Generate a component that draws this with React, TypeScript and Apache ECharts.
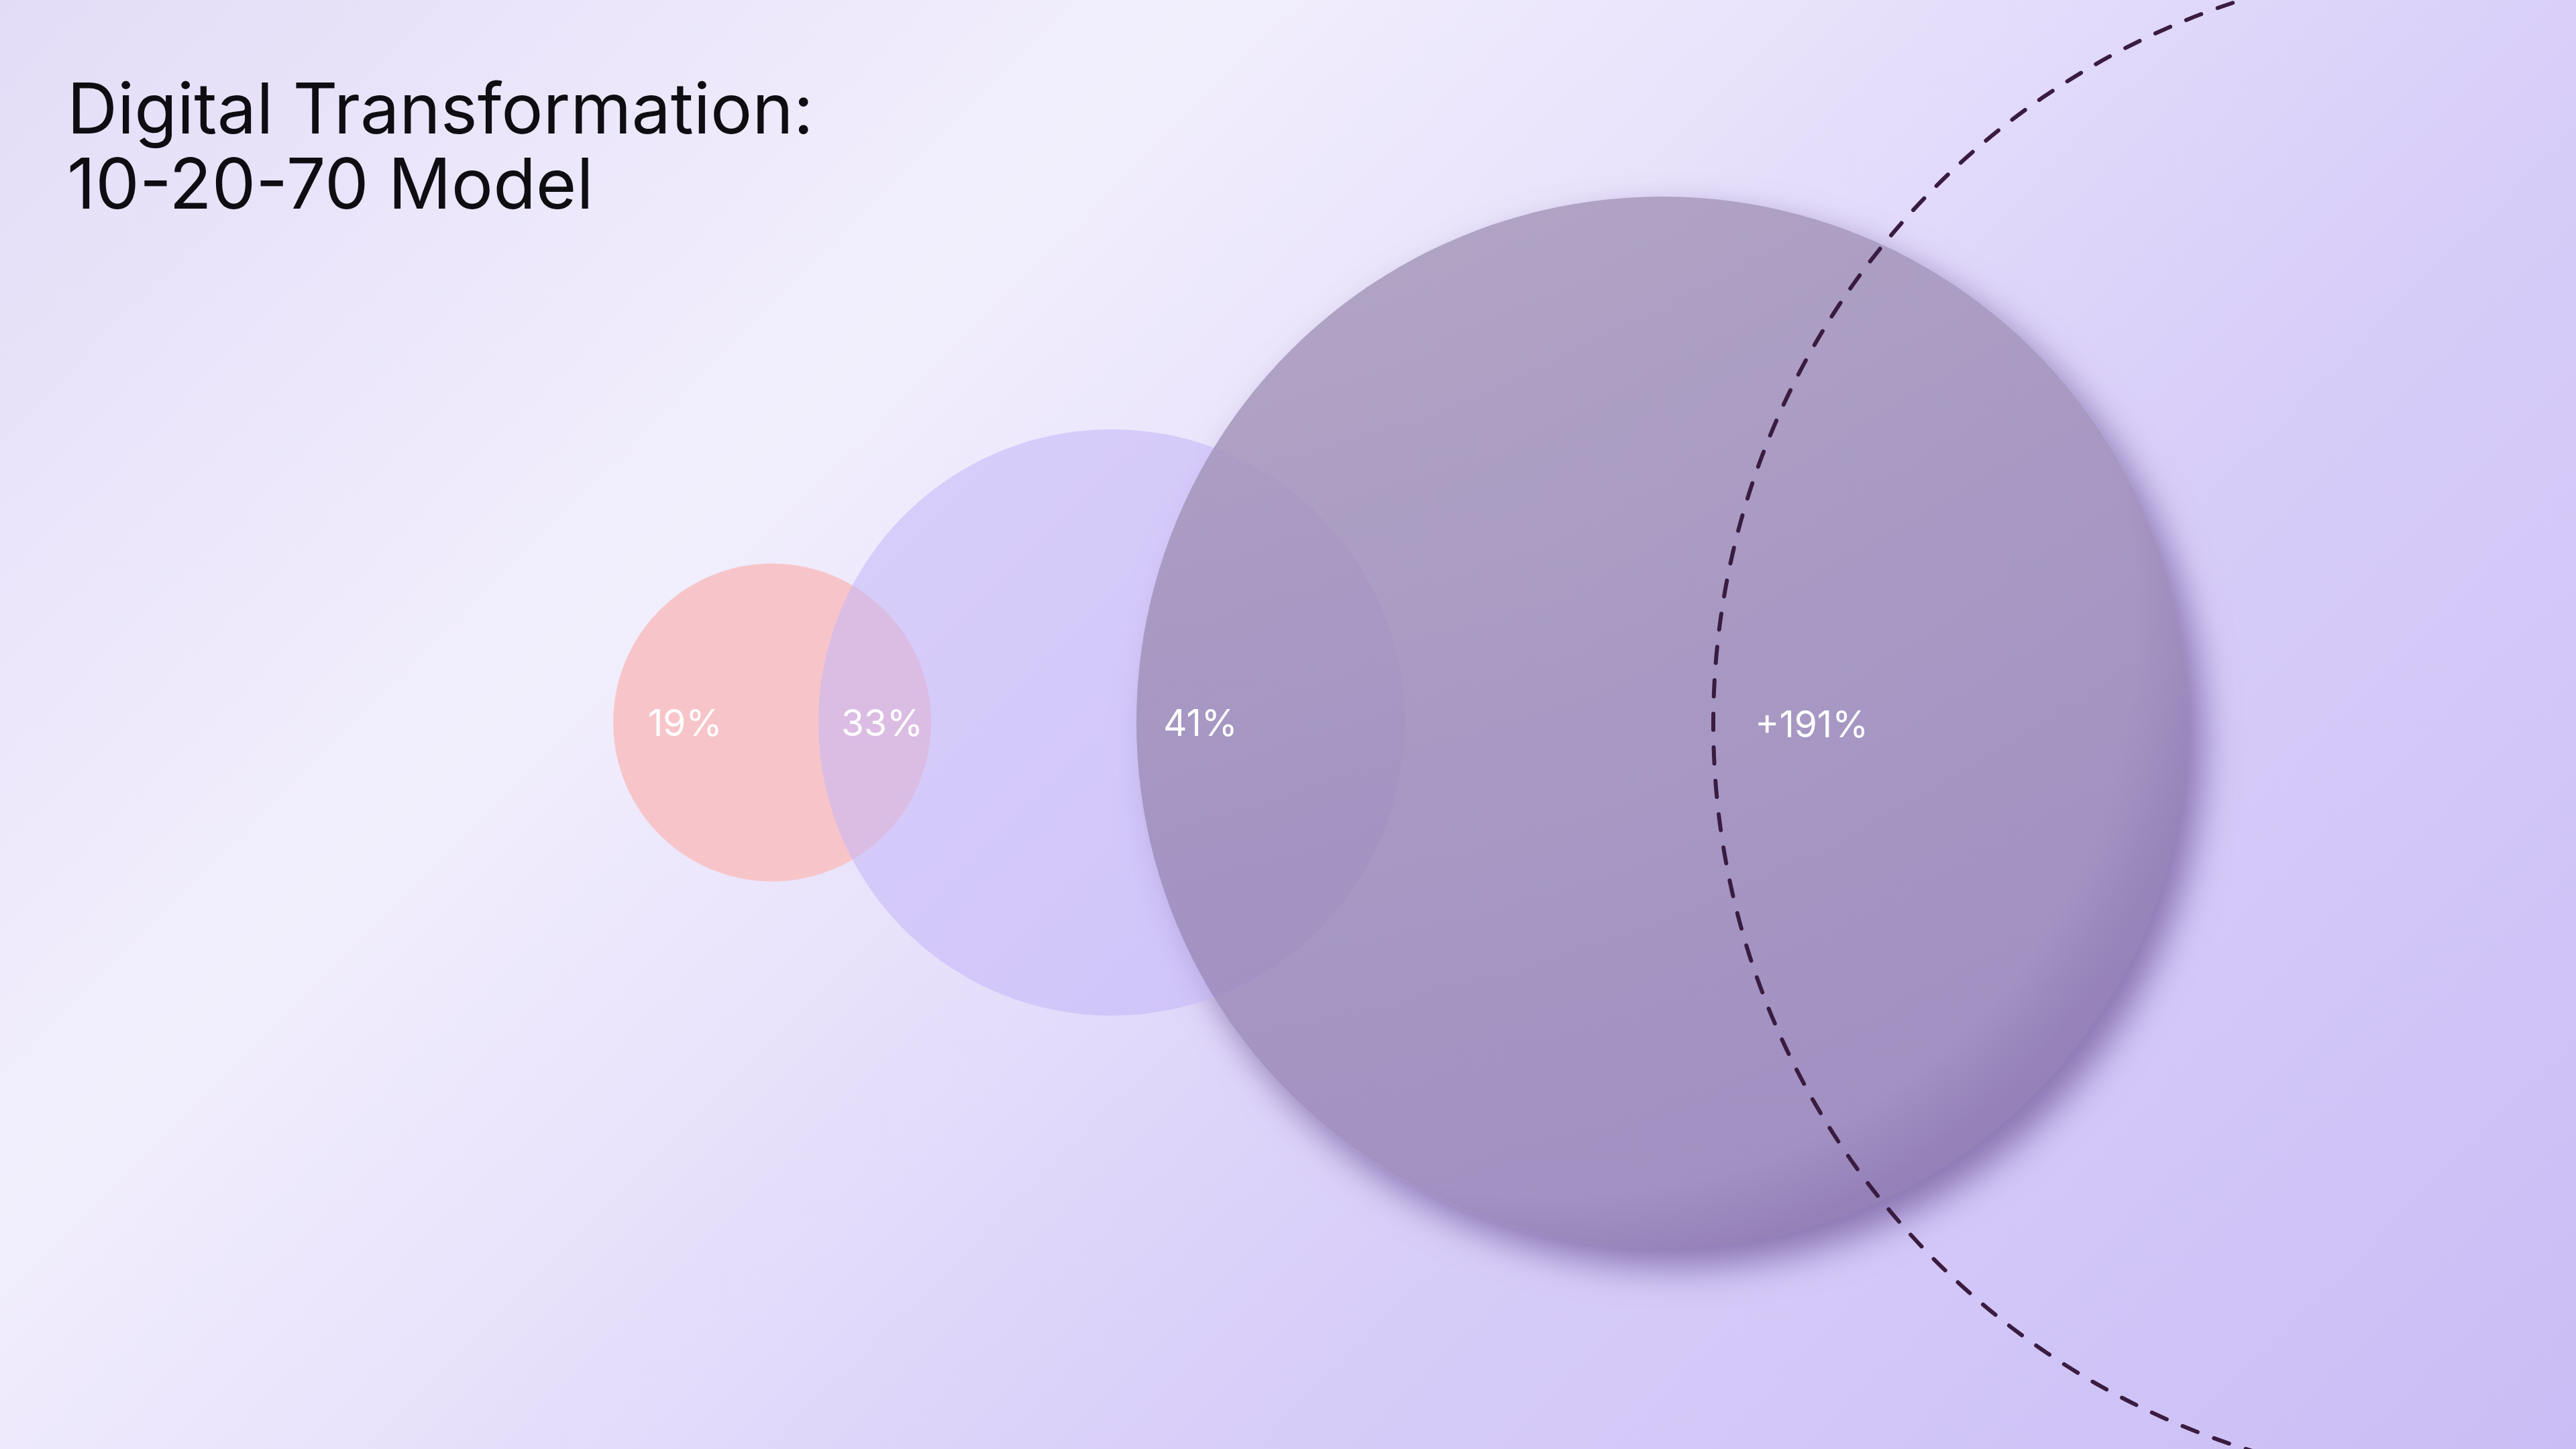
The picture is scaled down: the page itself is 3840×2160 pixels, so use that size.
import React, { useEffect, useRef } from 'react';
import * as echarts from 'echarts';

// Values (chart units = canvas grid units)
const TITLE_LINES = ['Digital Transformation:', '10-20-70 Model'];
const LABELS = ['19%', '33%', '41%', '+191%'];
const CENTER_X = [1151, 1657, 2478, 3687];
const CENTER_Y = [1077, 1077, 1077, 1079];
const RADIUS = [237, 437, 784, 1133];

const W = 3840;
const H = 2160;
const LABEL_INSET = [52, 34, 40, 62];

export default function App() {
  const ref = useRef<HTMLDivElement>(null);

  useEffect(() => {
    document.body.style.margin = '0';
    const chart = echarts.init(ref.current as HTMLDivElement, null, { renderer: 'svg' });

    const data = LABELS.map((_, i) => [CENTER_X[i], CENTER_Y[i], RADIUS[i], i]);

    const bg = new echarts.graphic.LinearGradient(
      0,
      0,
      3000,
      3000,
      [
        { offset: 0, color: '#E3DCF7' },
        { offset: 0.3, color: '#F2EFFD' },
        { offset: 0.45, color: '#E8E2FB' },
        { offset: 0.65, color: '#D8CEF9' },
        { offset: 1, color: '#CABDF5' },
      ],
      true
    );

    const bigFill = new echarts.graphic.LinearGradient(0.2, 0, 0.6, 1, [
      { offset: 0, color: 'rgba(166,152,182,0.8)' },
      { offset: 0.5, color: 'rgba(153,136,182,0.8)' },
      { offset: 1, color: 'rgba(146,126,181,0.8)' },
    ]);

    // under-layer of the big circle: page-coloured core, soft darker lower-right rim, drop shadow
    const underFill = new echarts.graphic.RadialGradient(0.4, 0.4, 1, [
      { offset: 0, color: '#E4DEFA' },
      { offset: 0.55, color: '#DCD4F8' },
      { offset: 0.62, color: '#A08EC6' },
      { offset: 1, color: '#A08EC6' },
    ]);
    const underStyle = {
      fill: underFill,
      shadowBlur: 54,
      shadowColor: 'rgba(137,116,176,1)',
      shadowOffsetX: 22,
      shadowOffsetY: 28,
    };

    const circleStyles: any[] = [
      { fill: '#F7C5C9' },
      { fill: 'rgba(197,181,247,0.56)' },
      { fill: bigFill },
      {
        fill: 'none',
        stroke: '#3A1C40',
        lineWidth: 6,
        lineDash: [24, 26],
        lineCap: 'round',
      },
    ];

    chart.setOption({
      animation: false,
      graphic: [
        {
          type: 'rect',
          z: -10,
          silent: true,
          shape: { x: 0, y: 0, width: W, height: H },
          style: { fill: bg },
        },
      ],
      title: TITLE_LINES.map((line, k) => ({
        text: line,
        left: 100,
        top: 105 + k * 112,
        padding: 0,
        textStyle: {
          fontFamily: 'Inter',
          fontSize: 104,
          lineHeight: 112,
          fontWeight: 400,
          color: '#0E0D12',
        },
      })),
      grid: { left: 0, right: 0, top: 0, bottom: 0, containLabel: false },
      xAxis: { type: 'value', min: 0, max: W, show: false },
      yAxis: { type: 'value', min: 0, max: H, inverse: true, show: false },
      series: [
        {
          type: 'custom',
          coordinateSystem: 'cartesian2d',
          clip: false,
          silent: true,
          data,
          renderItem: (params: any, api: any) => {
            const i = api.value(3);
            const c = api.coord([api.value(0), api.value(1)]);
            const r = api.size([api.value(2), 0])[0];
            const children: any[] = [];
            if (i === 2) {
              children.push({
                type: 'circle',
                z2: -1,
                shape: { cx: c[0], cy: c[1], r },
                style: underStyle,
              });
            }
            children.push({
              type: 'circle',
              z2: i,
              shape: { cx: c[0], cy: c[1], r },
              style: circleStyles[i],
            });
            children.push({
              type: 'text',
              z2: 100,
              style: {
                text: LABELS[i],
                x: c[0] - r + LABEL_INSET[i],
                y: c[1],
                fill: '#FFFFFF',
                fontFamily: 'Inter',
                fontSize: 55,
                fontWeight: 400,
                align: 'left',
                verticalAlign: 'middle',
              },
            });
            return { type: 'group', children };
          },
        },
      ],
    });

    return () => chart.dispose();
  }, []);

  return (
    <div
      ref={ref}
      style={{ position: 'fixed', left: 0, top: 0, width: W + 'px', height: H + 'px' }}
    />
  );
}
